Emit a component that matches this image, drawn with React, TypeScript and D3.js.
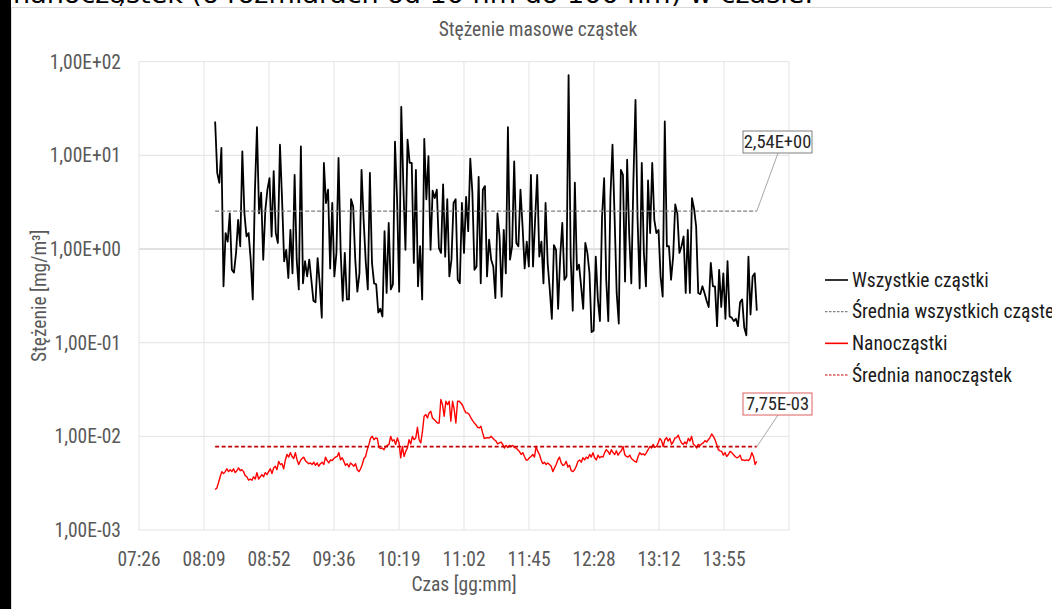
import React from 'react';
import * as d3 from 'd3';

const width = 1052;
const height = 609;
const margin = { top: 61.7, right: 263, bottom: 79, left: 139 };

const chartTitle = 'Stężenie masowe cząstek';
const headerText = 'nanocząstek (o rozmiarach od 10 nm do 100 nm) w czasie.';
const xTitle = 'Czas [gg:mm]';
const yTitle = 'Stężenie [mg/m³]';

const yTicks = [1e2, 1e1, 1e0, 1e-1, 1e-2, 1e-3];
const yTickLabels = ['1,00E+02', '1,00E+01', '1,00E+00', '1,00E-01', '1,00E-02', '1,00E-03'];
const xTickLabels = ['07:26', '08:09', '08:52', '09:36', '10:19', '11:02', '11:45', '12:28', '13:12', '13:55', ''];
const axisMinDay = 0.31;
const axisMaxDay = 0.61;
const axisStepDay = 0.03;

const seriesStart = '08:17';
const seriesEnd = '14:17';

// Wszystkie cząstki [mg/m3]
const allParticles = [
  23, 6.5, 5.1, 12, 0.4, 1.48, 1.2, 2.4, 0.6, 0.56, 0.91, 2.05, 1.07, 11, 2.4, 1.36, 1.48, 0.77, 0.29, 4.0,
  20, 2.4, 4.0, 0.77, 2.6, 4.3, 5.7, 1.36, 6.8, 1.48, 1.16, 13, 3.4, 0.74, 0.98, 0.49, 1.6, 0.55, 6.2, 0.77,
  0.37, 12.5, 0.43, 0.74, 0.51, 0.77, 0.47, 0.28, 0.27, 0.8, 0.43, 0.185, 8.3, 3.1, 4.3, 0.62, 3.1, 0.51, 0.91, 9.4,
  0.98, 0.28, 0.91, 0.29, 0.29, 3.4, 2.85, 0.77, 0.35, 0.55, 7.0, 2.05, 0.74, 0.37, 6.5, 0.71, 0.43, 0.42, 0.21, 0.23,
  0.19, 1.55, 0.34, 1.9, 0.37, 0.42, 14, 3.4, 0.35, 33, 4.7, 0.98, 14.7, 8.3, 8.3, 0.71, 7.0, 0.4, 1.07, 0.29,
  15, 3.4, 9.8, 0.98, 4.2, 3.5, 4.3, 1.02, 0.91, 4.9, 0.83, 3.4, 0.51, 0.77, 3.1, 3.4, 0.47, 0.43, 3.1, 0.91,
  3.6, 1.55, 9.2, 4.0, 0.6, 0.65, 5.9, 0.43, 4.3, 4.7, 0.51, 1.26, 0.77, 0.65, 0.3, 2.4, 1.36, 0.31, 1.6, 0.55,
  20, 0.77, 1.07, 8.6, 1.16, 1.07, 4.3, 1.74, 0.62, 1.2, 0.65, 6.2, 0.65, 2.05, 6.2, 0.83, 1.2, 0.43, 3.1, 0.71,
  0.37, 0.18, 1.1, 0.98, 0.23, 0.83, 1.9, 0.47, 0.51, 72, 0.83, 0.22, 5.1, 0.6, 0.68, 0.4, 0.23, 1.16, 0.91, 0.55,
  0.13, 0.135, 0.83, 0.29, 0.17, 2.2, 5.7, 0.47, 0.17, 3.6, 13, 2.2, 0.34, 0.16, 7.0, 6.2, 0.45, 9.0, 1.42, 0.43,
  5.4, 39, 2.05, 0.38, 8.3, 0.91, 0.4, 5.4, 1.48, 8.3, 2.05, 1.48, 1.6, 0.51, 0.31, 23, 1.07, 1.07, 0.47, 0.83,
  3.0, 2.4, 0.91, 1.07, 1.36, 0.34, 1.6, 0.34, 3.5, 2.7, 1.74, 0.34, 0.33, 0.4, 0.34, 0.28, 0.24, 0.71, 0.4, 0.4,
  0.15, 0.6, 0.24, 0.55, 0.18, 0.74, 0.19, 0.185, 0.17, 0.18, 0.15, 0.27, 0.29, 0.145, 0.12, 0.83, 0.2, 0.51, 0.55, 0.22,
];

// Nanocząstki [mg/m3]
const nanoParticles = [
  0.0027, 0.0028, 0.0032, 0.0037, 0.0042, 0.004, 0.0042, 0.0045, 0.0042, 0.0044, 0.0042, 0.0045, 0.0041, 0.0043, 0.0046,
  0.0043, 0.0044, 0.0042, 0.0038, 0.0037, 0.0034, 0.0035, 0.0034, 0.0037, 0.0035, 0.0041, 0.0035, 0.0037, 0.0039, 0.0037,
  0.0041, 0.0039, 0.0042, 0.0045, 0.004, 0.0046, 0.0048, 0.0044, 0.0054, 0.005, 0.0051, 0.0045, 0.0056, 0.0064, 0.006,
  0.0067, 0.0061, 0.0058, 0.0067, 0.0056, 0.005, 0.0055, 0.0058, 0.006, 0.0055, 0.0053, 0.0051, 0.0052, 0.005, 0.0053,
  0.0049, 0.0052, 0.0048, 0.0051, 0.0053, 0.005, 0.006, 0.0055, 0.0052, 0.0056, 0.0055, 0.0058, 0.006, 0.0061, 0.0067,
  0.0056, 0.0059, 0.0054, 0.0049, 0.0051, 0.0047, 0.0052, 0.005, 0.0048, 0.0051, 0.0044, 0.0042, 0.0045, 0.005, 0.0058,
  0.0061, 0.0072, 0.0082, 0.0096, 0.01, 0.0092, 0.0096, 0.0095, 0.0076, 0.0074, 0.0075, 0.0072, 0.0078, 0.008, 0.0082,
  0.01, 0.0089, 0.0092, 0.0082, 0.0096, 0.0085, 0.0059, 0.0078, 0.0061, 0.0069, 0.0075, 0.0092, 0.0083, 0.01, 0.0092,
  0.0096, 0.0125, 0.0092, 0.0085, 0.0113, 0.0164, 0.0171, 0.0157, 0.0178, 0.0185, 0.0157, 0.0151, 0.0145, 0.0139, 0.0139,
  0.0247, 0.0218, 0.0164, 0.0237, 0.0218, 0.0237, 0.0145, 0.0237, 0.0193, 0.0139, 0.0237, 0.0237, 0.0227, 0.0215, 0.0193,
  0.0178, 0.0178, 0.0171, 0.0157, 0.0147, 0.0139, 0.0133, 0.0125, 0.0123, 0.0128, 0.0109, 0.0095, 0.0096, 0.0097, 0.0096,
  0.01, 0.0096, 0.0092, 0.0089, 0.0083, 0.0085, 0.0087, 0.0082, 0.0075, 0.008, 0.0076, 0.008, 0.0078, 0.008, 0.0076,
  0.0075, 0.0072, 0.0069, 0.0064, 0.0067, 0.0061, 0.0056, 0.0056, 0.0059, 0.0061, 0.0064, 0.006, 0.0078, 0.0069, 0.0064,
  0.0056, 0.0051, 0.0053, 0.005, 0.0052, 0.005, 0.0048, 0.0042, 0.0046, 0.005, 0.0056, 0.006, 0.0052, 0.0049, 0.005,
  0.0054, 0.0047, 0.0049, 0.0043, 0.0042, 0.0044, 0.0048, 0.0054, 0.0056, 0.0053, 0.0059, 0.0056, 0.006, 0.0058, 0.0064,
  0.006, 0.0067, 0.0059, 0.0056, 0.0063, 0.0059, 0.0061, 0.006, 0.0067, 0.0072, 0.0069, 0.0064, 0.0072, 0.0067, 0.0064,
  0.007, 0.0063, 0.0067, 0.007, 0.0078, 0.0064, 0.0061, 0.006, 0.0063, 0.0058, 0.0056, 0.0054, 0.0053, 0.0061, 0.0067,
  0.0064, 0.0065, 0.0063, 0.0067, 0.0072, 0.0078, 0.0075, 0.0082, 0.0076, 0.0078, 0.0085, 0.0095, 0.009, 0.0078, 0.0092,
  0.0097, 0.0089, 0.0095, 0.0082, 0.0087, 0.0096, 0.0097, 0.0103, 0.0092, 0.0085, 0.0082, 0.0087, 0.0083, 0.0095, 0.0089,
  0.01, 0.0083, 0.008, 0.0075, 0.0082, 0.008, 0.0083, 0.0085, 0.009, 0.0087, 0.0092, 0.0097, 0.0106, 0.01, 0.0092,
  0.0082, 0.0072, 0.007, 0.0069, 0.0063, 0.0067, 0.0061, 0.0064, 0.0069, 0.0067, 0.0064, 0.0061, 0.0059, 0.006, 0.0063,
  0.0056, 0.0056, 0.0055, 0.0056, 0.0055, 0.0058, 0.0067, 0.0061, 0.005, 0.0054,
];

const meanAll = 2.54;
const meanNano = 7.75e-3;
const meanAllLabel = '2,54E+00';
const meanNanoLabel = '7,75E-03';

const legendNames = ['Wszystkie cząstki', 'Średnia wszystkich cząstek', 'Nanocząstki', 'Średnia nanocząstek'];
const legendColors = ['#000000', '#808080', '#ff0000', '#c00000'];
const legendDashed = [false, true, false, true];

const font = "'Liberation Sans Narrow', 'Arial Narrow', 'Roboto Condensed', 'Liberation Sans', sans-serif";

const toDay = (s: string) => {
  const [h, m] = s.split(':').map(Number);
  return (h * 60 + m) / 1440;
};

export default function App() {
  const x0 = margin.left;
  const x1 = width - margin.right;
  const y0 = margin.top;
  const y1 = height - margin.bottom;

  const xScale = d3.scaleLinear().domain([axisMinDay, axisMaxDay]).range([x0, x1]);
  const yScale = d3.scaleLog().domain([1e-3, 1e2]).range([y1, y0]);

  const tStart = toDay(seriesStart);
  const tEnd = toDay(seriesEnd);
  const timeAt = (n: number) => (i: number) => tStart + (i * (tEnd - tStart)) / (n - 1);

  const tAll = timeAt(allParticles.length);
  const tNano = timeAt(nanoParticles.length);

  const lineAll = d3.line<number>().x((_, i) => xScale(tAll(i))).y(d => yScale(d));
  const lineNano = d3.line<number>().x((_, i) => xScale(tNano(i))).y(d => yScale(d));

  const xTicks = d3.range(xTickLabels.length).map(i => axisMinDay + i * axisStepDay);

  const meanXStart = xScale(tStart);
  const meanXEnd = xScale(tEnd);

  const legendX = 825;
  const legendY = d3.scalePoint<number>().domain(d3.range(legendNames.length)).range([280, 375]);

  const labels = [
    { text: meanAllLabel, value: meanAll, box: '#7f7f7f', boxY: 131 },
    { text: meanNanoLabel, value: meanNano, box: '#e06060', boxY: 393 },
  ];

  return (
    <svg
      width={width}
      height={height}
      style={{ position: 'absolute', left: 0, top: 0, background: '#fff' }}
      fontFamily={font}
    >
      <defs>
        <clipPath id="headClip">
          <rect x={0} y={0} width={width} height={6} />
        </clipPath>
      </defs>
      <rect x={0} y={0} width={width} height={height} fill="#fff" />
      <text x={13} y={3} fontSize={24} fontFamily="'DejaVu Sans', sans-serif" fill="#000"
        textLength={800} lengthAdjust="spacingAndGlyphs" clipPath="url(#headClip)">
        {headerText}
      </text>
      <rect x={0} y={0} width={11} height={height} fill="#000" />
      <line x1={11.5} x2={width} y1={7.5} y2={7.5} stroke="#d9d9d9" />
      <line x1={11.5} x2={11.5} y1={7.5} y2={height} stroke="#d9d9d9" />

      <text x={538} y={36} textAnchor="middle" fontSize={19.5} fill="#595959">{chartTitle}</text>

      {/* grid */}
      {yTicks.map(t => (
        <line key={t} x1={x0} x2={x1} y1={yScale(t)} y2={yScale(t)}
          stroke={t === 1 ? '#c4c4c4' : '#e3e3e3'} strokeWidth={1} />
      ))}
      {xTicks.map(t => (
        <line key={t} x1={xScale(t)} x2={xScale(t)} y1={y0} y2={y1} stroke="#e3e3e3" strokeWidth={1} />
      ))}

      {/* axis labels */}
      {yTicks.map((t, i) => (
        <text key={t} x={121} y={yScale(t)} dy="0.35em" textAnchor="end" fontSize={19.5} fill="#595959">
          {yTickLabels[i]}
        </text>
      ))}
      {xTicks.map((t, i) => (
        <text key={t} x={xScale(t)} y={566} textAnchor="middle" fontSize={19.5} fill="#595959">
          {xTickLabels[i]}
        </text>
      ))}
      <text x={(x0 + x1) / 2} y={591} textAnchor="middle" fontSize={19.5} fill="#595959">{xTitle}</text>
      <text transform={`translate(46,${(y0 + y1) / 2}) rotate(-90)`} textAnchor="middle" fontSize={19.5} fill="#595959">
        {yTitle}
      </text>

      {/* series */}
      <path d={lineAll(allParticles) || ''} fill="none" stroke="#000" strokeWidth={1.8} strokeLinejoin="round" />
      <path d={lineNano(nanoParticles) || ''} fill="none" stroke="#ff0000" strokeWidth={1.4} strokeLinejoin="round" />
      <line x1={meanXStart} x2={meanXEnd} y1={yScale(meanAll)} y2={yScale(meanAll)}
        stroke="#808080" strokeWidth={1.4} strokeDasharray="4,2" />
      <line x1={meanXStart} x2={meanXEnd} y1={yScale(meanNano)} y2={yScale(meanNano)}
        stroke="#c00000" strokeWidth={1.8} strokeDasharray="4,2.5" />

      {/* data labels */}
      {labels.map(l => (
        <g key={l.text}>
          <line x1={778} y1={l.boxY + 22} x2={meanXEnd} y2={yScale(l.value)} stroke="#a6a6a6" strokeWidth={1} />
          <rect x={743} y={l.boxY} width={69} height={22} fill="#fff" stroke={l.box} strokeWidth={1} />
          <text x={777.5} y={l.boxY + 11} dy="0.35em" textAnchor="middle" fontSize={18.5} fill="#262626">{l.text}</text>
        </g>
      ))}

      {/* legend */}
      {legendNames.map((name, i) => (
        <g key={name} transform={`translate(${legendX},${legendY(i)})`}>
          <line x1={0} x2={23} y1={0} y2={0} stroke={legendColors[i]}
            strokeWidth={legendDashed[i] ? 1.2 : 1.6} strokeDasharray={legendDashed[i] ? '2.5,1.5' : undefined} />
          <text x={27} y={0} dy="0.35em" fontSize={19.5} fill="#1a1a1a">{name}</text>
        </g>
      ))}
    </svg>
  );
}
